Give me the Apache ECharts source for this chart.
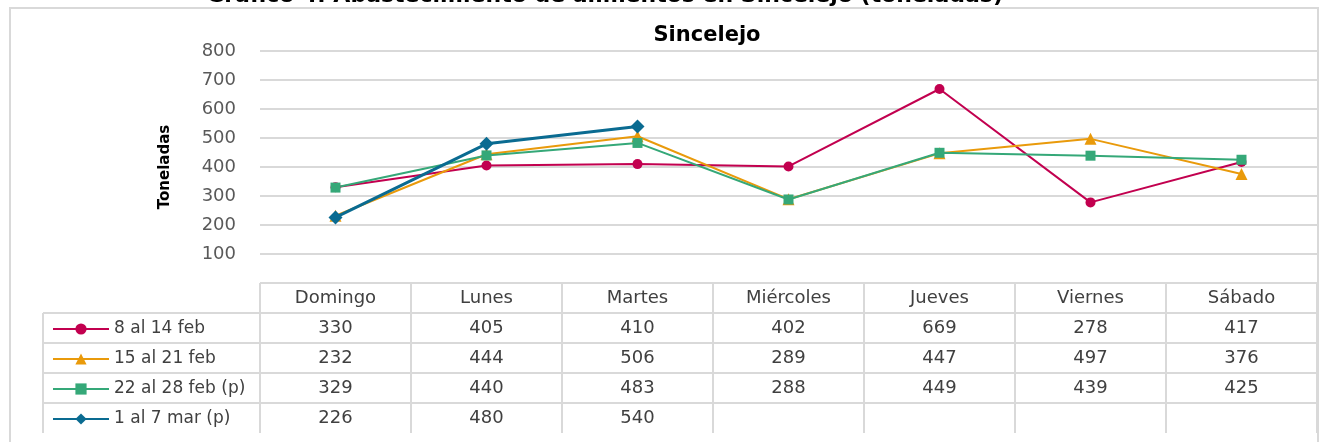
<!DOCTYPE html>
<html>
<head>
<meta charset="utf-8">
<script src="https://cdn.jsdelivr.net/npm/echarts@6/dist/echarts.min.js"></script>
<style>
  html, body { margin: 0; padding: 0; background: #fff; }
  #chart { width: 1320px; height: 442px; }
</style>
</head>
<body>
<div id="chart"></div>
<script>
// datos del gráfico
var dias = ['Domingo', 'Lunes', 'Martes', 'Miércoles', 'Jueves', 'Viernes', 'Sábado'];
var semanas = ['8 al 14 feb', '15 al 21 feb', '22 al 28 feb (p)', '1 al 7 mar (p)'];
var sem1 = [330, 405, 410, 402, 669, 278, 417];
var sem2 = [232, 444, 506, 289, 447, 497, 376];
var sem3 = [329, 440, 483, 288, 449, 439, 425];
var sem4 = [226, 480, 540, null, null, null, null];
var ticksY = [0, 100, 200, 300, 400, 500, 600, 700, 800];

var colores = ['#C2004F', '#E99A0B', '#35A878', '#0A6B91'];
var fuente = 'DejaVu Sans';

var myChart = echarts.init(document.getElementById('chart'));

function serie(i, datos, simbolo, tam, ancho) {
    return {
        name: semanas[i],
        type: 'line',
        data: datos,
        symbol: simbolo,
        symbolSize: tam,
        showAllSymbol: true,
        connectNulls: false,
        lineStyle: { color: colores[i], width: ancho },
        itemStyle: { color: colores[i] },
        emphasis: { disabled: true }
    };
}

var option = {
    animation: false,
    title: {
        text: 'Sincelejo',
        left: 702,
        textAlign: 'center',
        top: 20,
        textStyle: { fontFamily: fuente, fontSize: 21, fontWeight: 'bold', color: '#000' }
    },
    legend: {
        orient: 'vertical',
        left: 52,
        top: 319,
        height: 120,
        itemWidth: 56,
        itemHeight: 14,
        itemGap: 10,
        padding: 0,
        data: semanas,
        textStyle: { fontFamily: fuente, fontSize: 17, color: '#404040', lineHeight: 20, height: 20, verticalAlign: 'middle' }
    },
    grid: { left: 260, right: 3, top: 51, bottom: 159 },
    xAxis: {
        type: 'category',
        data: dias,
        boundaryGap: true,
        axisLine: { show: false },
        axisTick: { show: false },
        axisLabel: { show: false }
    },
    yAxis: {
        type: 'value',
        min: ticksY[0],
        max: ticksY[ticksY.length - 1],
        interval: 100,
        name: 'Toneladas',
        nameLocation: 'middle',
        nameGap: 87,
        nameRotate: 90,
        nameTextStyle: { fontFamily: fuente, fontSize: 15, fontWeight: 'bold', color: '#000' },
        axisLabel: {
            margin: 24,
            fontFamily: fuente, fontSize: 18, color: '#595959',
            formatter: function (v) { return v === 0 ? '' : v; }
        },
        splitLine: { lineStyle: { color: '#d9d9d9', width: 2 } }
    },
    series: [
        serie(0, sem1, 'circle', 10, 2),
        serie(1, sem2, 'triangle', 12, 2),
        serie(2, sem3, 'rect', 10, 2),
        serie(3, sem4, 'diamond', 14, 3)
    ]
};

myChart.setOption(option);

// tabla de datos debajo del gráfico
var filas = [sem1, sem2, sem3, sem4];
var alto = 30;
var y0 = myChart.convertToPixel({ yAxisIndex: 0 }, 0);
var x1 = myChart.convertToPixel({ xAxisIndex: 0 }, dias[0]);
var x2 = myChart.convertToPixel({ xAxisIndex: 0 }, dias[1]);
var ancho = x2 - x1;
var izq = x1 - ancho / 2;
var der = izq + ancho * dias.length;
var colLeyenda = 43;
var borde = { stroke: '#d9d9d9', lineWidth: 2 };
var txt = { fontFamily: fuente, fontSize: 18, fill: '#404040', align: 'center', verticalAlign: 'middle' };
var graf = [];

graf.push({
    type: 'rect', shape: { x: 10, y: 8, width: 1308, height: 450 },
    style: { fill: null, stroke: '#d9d9d9', lineWidth: 2 }, z: 0
});
graf.push({
    type: 'text', x: 1003, y: 7,
    style: { text: 'Gráfico 4. Abastecimiento de alimentos en Sincelejo (toneladas)', fontFamily: fuente,
        fontSize: 22, fontWeight: 'bold', fill: '#000', align: 'right', verticalAlign: 'bottom' }
});

// líneas horizontales
graf.push({ type: 'line', shape: { x1: izq, y1: y0, x2: der, y2: y0 }, style: borde });
for (var r = 1; r <= filas.length; r++) {
    var y = y0 + r * alto;
    graf.push({ type: 'line', shape: { x1: colLeyenda, y1: y, x2: der, y2: y }, style: borde });
}
// líneas verticales
var yFin = y0 + (filas.length + 1) * alto;
graf.push({ type: 'line', shape: { x1: colLeyenda, y1: y0 + alto, x2: colLeyenda, y2: yFin }, style: borde });
for (var c = 0; c <= dias.length; c++) {
    var x = izq + c * ancho;
    graf.push({ type: 'line', shape: { x1: x, y1: y0, x2: x, y2: yFin }, style: borde });
}
// textos
dias.forEach(function (d, i) {
    var cx = myChart.convertToPixel({ xAxisIndex: 0 }, d);
    graf.push({ type: 'text', x: cx, y: y0 + alto / 2, style: Object.assign({ text: d }, txt) });
    filas.forEach(function (f, j) {
        if (f[i] == null) return;
        graf.push({ type: 'text', x: cx, y: y0 + alto * (j + 1.5), style: Object.assign({ text: String(f[i]) }, txt) });
    });
});

myChart.setOption({ graphic: graf });
</script>
</body>
</html>
